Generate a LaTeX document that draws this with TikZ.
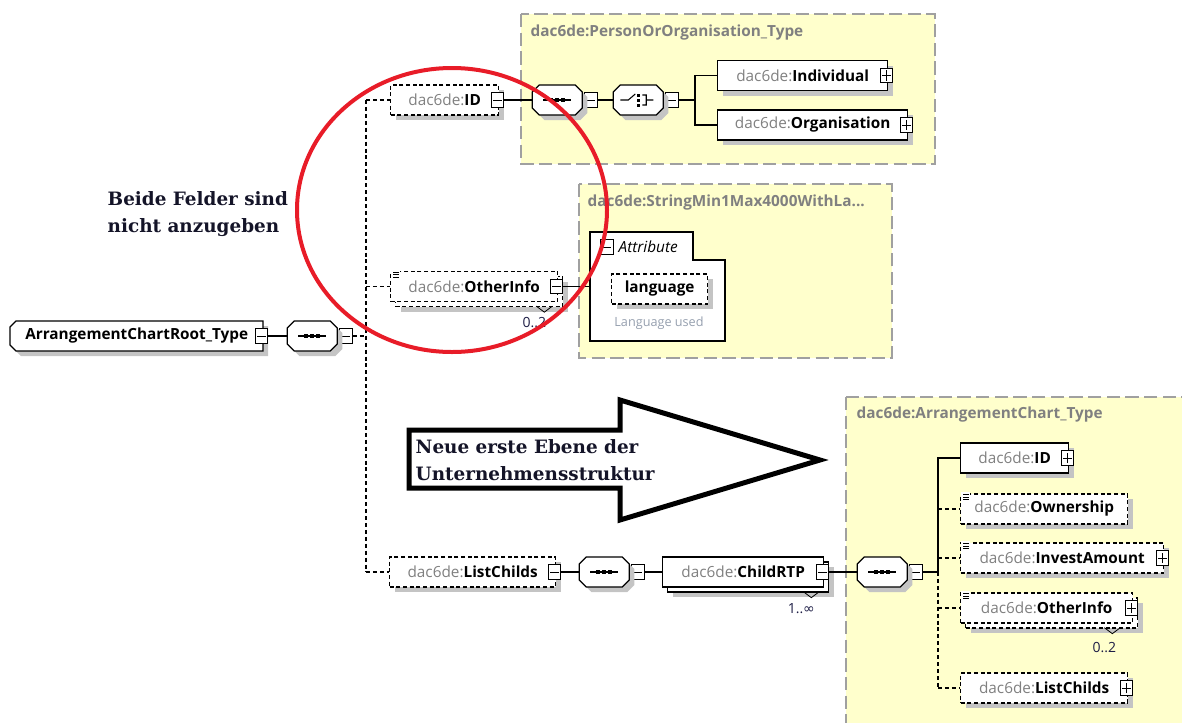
\documentclass[tikz,border=0pt]{standalone}
\usepackage{fontspec}
\setmainfont{Open Sans}
\newfontfamily\notefont{DejaVu Serif}
\newfontfamily\symbfont{DejaVu Sans}
\usepackage{tikz}
\usetikzlibrary{shadows, calc}

\definecolor{grpfill}{RGB}{255,255,204}
\definecolor{grpline}{RGB}{160,160,160}
\definecolor{nsgrey}{RGB}{128,128,128}
\definecolor{circred}{RGB}{232,28,40}
\definecolor{shad}{RGB}{196,196,196}
\definecolor{multcol}{RGB}{30,30,70}
\definecolor{docgrey}{RGB}{150,160,175}
\definecolor{notecol}{RGB}{20,20,40}

\newcommand{\dacns}{\textcolor{nsgrey}{dac6de:}}

\begin{document}
\begin{tikzpicture}[x=0.75pt, y=-0.75pt,
    every node/.style={font=\fontsize{11.5}{13}\selectfont},
    elem/.style={draw, fill=white, line width=1pt, anchor=west, minimum height=22.5pt, inner sep=0pt,
        drop shadow={shadow xshift=3.75pt, shadow yshift=-3.75pt, draw=none, fill=shad, opacity=1}},
    opt/.style={elem, dash pattern=on 3pt off 2pt},
    multi/.style={drop shadow={shadow xshift=7.5pt, shadow yshift=-7.5pt, draw=none, fill=shad, opacity=1},
        copy shadow={shadow xshift=3.75pt, shadow yshift=-3.75pt, draw=black, fill=white}},
    comp/.style={anchor=west, minimum width=37.5pt, minimum height=22.5pt, inner sep=0pt},
    sgn/.style={draw, fill=white, line width=0.7pt, minimum width=9.5pt, minimum height=11pt, inner sep=0pt},
    minus/.style={sgn, path picture={\draw[line width=0.7pt] ([xshift=1.6pt]path picture bounding box.west) -- ([xshift=-1.6pt]path picture bounding box.east);}},
    plus/.style={sgn, path picture={\draw[line width=0.7pt] ([xshift=1.6pt]path picture bounding box.west) -- ([xshift=-1.6pt]path picture bounding box.east) ([yshift=1.6pt]path picture bounding box.south) -- ([yshift=-1.6pt]path picture bounding box.north);}},
    group/.style={draw=grpline, fill=grpfill, line width=1pt, dash pattern=on 10pt off 4pt},
    grptitle/.style={anchor=west, text=nsgrey, font=\fontsize{11.5}{13}\selectfont\bfseries},
    con/.style={line width=0.8pt},
    optcon/.style={con, dash pattern=on 3pt off 2.2pt},
    mult/.style={text=multcol, font=\fontsize{10.5}{12}\selectfont, inner sep=0pt},
    note/.style={anchor=west, align=left, text=notecol, font=\notefont\bfseries\fontsize{13.8}{20}\selectfont}
]
\useasboundingbox (0,0) rectangle (1182,722);

% type groups
\draw[group] (521,14) rectangle (935,164);
\node[grptitle] (g1) at (526,33) {dac6de:PersonOrOrganisation\_Type};
\draw[group] (579,184) rectangle (892,358);
\node[grptitle] (g2) at (583,203) {dac6de:StringMin1Max4000WithLa...};
\draw[group] (846,397) rectangle (1200,740);
\node[grptitle] (g3) at (852,415) {dac6de:ArrangementChart\_Type};

% root
\fill[shad] (21,326) -- (268,326) -- (268,356) -- (21,356) -- (15,350) -- (15,332) -- cycle;
\draw[line width=1pt, fill=white] (16,321) -- (263,321) -- (263,351) -- (16,351) -- (10,345) -- (10,327) -- cycle;
\node[comp, minimum width=189.75pt] (root) at (10,336) {\textbf{ArrangementChartRoot\_Type}};
\node[minus] (rootm) at ([xshift=-1.5pt]root.east) {};
\node[comp] (s1) at (287,336) {};
\node[minus] (s1m) at ([xshift=6.5pt]s1.east) {};

% ID
\node[opt, minimum width=81pt] (id1) at (390,100) {\dacns\textbf{ID}};
\node[minus] (id1m) at ([xshift=-1.5pt]id1.east) {};
\node[comp] (s2) at (532,100) {};
\node[minus] (s2m) at ([xshift=6.5pt]s2.east) {};
\node[comp] (ch) at (613,100) {};
\node[minus] (chm) at ([xshift=6.5pt]ch.east) {};
\node[elem, minimum width=127.5pt] (indiv) at (717,75.5) {\dacns\textbf{Individual}};
\node[plus] (indivp) at ([xshift=-1.5pt]indiv.east) {};
\node[elem, minimum width=142.5pt] (org) at (717,125) {\dacns\textbf{Organisation}};
\node[plus] (orgp) at ([xshift=-1.5pt]org.east) {};

% OtherInfo
\node[opt, multi, minimum width=125.25pt] (oi1) at (390,286.5) {\dacns\textbf{OtherInfo}};
\node[minus] (oi1m) at ([xshift=-1.5pt]oi1.east) {};
\draw[fill=white, line width=1pt] (590,232) -- (693,232) -- (693,260) -- (725,260) -- (725,341) -- (590,341) -- cycle;
\coordinate (attr) at (590,286.5);
\node[minus] (attrm) at (607,247) {};
\node[anchor=west, font=\fontsize{11.5}{13}\selectfont\itshape] (attrt) at (614,247) {Attribute};
\node[opt, minimum width=72pt] (lang) at (611,289) {\textbf{language}};
\node[text=docgrey, font=\fontsize{9.5}{11}\selectfont] (langdoc) at (659,323) {Language used};

% ListChilds
\node[opt, minimum width=124.5pt] (lc1) at (389,572) {\dacns\textbf{ListChilds}};
\node[minus] (lc1m) at ([xshift=-1.5pt]lc1.east) {};
\node[comp] (s3) at (579,572) {};
\node[minus] (s3m) at ([xshift=6.5pt]s3.east) {};
\node[elem, multi, minimum width=120.75pt] (crtp) at (662,572) {\dacns\textbf{ChildRTP}};
\node[minus] (crtpm) at ([xshift=-1.5pt]crtp.east) {};
\node[comp] (s4) at (857,572) {};
\node[minus] (s4m) at ([xshift=6.5pt]s4.east) {};
\node[elem, minimum width=81pt] (id2) at (960,458) {\dacns\textbf{ID}};
\node[plus] (id2p) at ([xshift=-1.5pt]id2.east) {};
\node[opt, minimum width=125.25pt] (own) at (960,509) {\dacns\textbf{Ownership}};
\node[opt, minimum width=152.25pt] (inv) at (960,558) {\dacns\textbf{InvestAmount}};
\node[plus] (invp) at ([xshift=-1.5pt]inv.east) {};
\node[opt, multi, minimum width=129pt] (oi2) at (960,608) {\dacns\textbf{OtherInfo}};
\node[plus] (oi2p) at ([xshift=-1.5pt]oi2.east) {};
\node[opt, minimum width=125.25pt] (lc2) at (960,688) {\dacns\textbf{ListChilds}};
\node[plus] (lc2p) at ([xshift=-1.5pt]lc2.east) {};

% compositors
\foreach \c in {s1,s2,ch,s3,s4} {
  \fill[shad, shift={(\c.center)}, xshift=3.75pt, yshift=-3.75pt] (-25,-8) -- (-18,-15) -- (18,-15) -- (25,-8) -- (25,8) -- (18,15) -- (-18,15) -- (-25,8) -- cycle;
  \draw[line width=1pt, fill=white, shift={(\c.center)}] (-25,-8) -- (-18,-15) -- (18,-15) -- (25,-8) -- (25,8) -- (18,15) -- (-18,15) -- (-25,8) -- cycle;
}
\foreach \c in {s1,s2,s3,s4} {
  \draw[con, shift={(\c.center)}] (-14,0) -- (14,0);
  \foreach \d in {-6,0,6}
    \fill[shift={(\c.center)}] (\d-2,-2) rectangle (\d+2,2);
}
\draw[con, shift={(ch.center)}] (-18,0) -- (-10,0) -- (-3,-6) (4,-5) -- (8,-5) -- (8,5) -- (4,5) (8,0) -- (15,0);
\foreach \d in {-5,0,5}
  \fill[shift={(ch.center)}] (-1,\d-1.5) rectangle (2,\d+1.5);

% documentation marks
\foreach \n in {oi1,own,inv,oi2} {
  \fill[white] ([shift={(1,-1)}]\n.north west) rectangle ([shift={(10,7)}]\n.north west);
  \foreach \k in {1,3.5,6}
    \draw[line width=0.5pt] ([shift={(3,\k)}]\n.north west) -- ([shift={(9,\k)}]\n.north west);
}

% occurrences
\draw[line width=0.6pt] ([shift={(-22,4)}]oi1.south east) -- ([shift={(-14,10)}]oi1.south east) -- ([shift={(-6,4)}]oi1.south east);
\node[mult] (oi1n) at ([shift={(-24,20)}]oi1.south east) {0..2};
\draw[line width=0.6pt] ([shift={(-21,4)}]crtp.south east) -- ([shift={(-13,10)}]crtp.south east) -- ([shift={(-5,4)}]crtp.south east);
\node[mult] (crtpn) at ([shift={(-23,21)}]crtp.south east) {1..{\symbfont ∞}};
\draw[line width=0.6pt] ([shift={(-29,4)}]oi2.south east) -- ([shift={(-21,10)}]oi2.south east) -- ([shift={(-13,4)}]oi2.south east);
\node[mult] (oi2n) at ([shift={(-29,24)}]oi2.south east) {0..2};

% connectors
\coordinate (bus1) at (366,336);
\coordinate (bus0) at (695,100);
\coordinate (bus2) at (938,572);
\draw[con] (rootm) -- (s1);
\draw[optcon] (s1m) -- (bus1);
\draw[optcon] (bus1 |- id1) -- (bus1 |- lc1);
\draw[optcon] (bus1 |- id1) -- (id1);
\draw[optcon] (bus1 |- oi1) -- (oi1);
\draw[optcon] (bus1 |- lc1) -- (lc1);
\draw[con] (id1m) -- (s2);
\draw[con] (s2m) -- (ch);
\draw[con] (chm) -- (bus0);
\draw[con] (indiv) -| (bus0) -- (bus0 |- org) -- (org);
\draw[con] (oi1m) -- (attr);
\draw[con] (lc1m) -- (s3);
\draw[con] (s3m) -- (crtp);
\draw[con] (crtpm) -- (s4);
\draw[con] (s4m) -- (bus2);
\draw[con] (bus2) |- (id2);
\draw[optcon] (bus2 |- own) -- (own);
\draw[optcon] (bus2 |- inv) -- (inv);
\draw[optcon] (bus2) -- (bus2 |- lc2);
\draw[optcon] (bus2 |- oi2) -- (oi2);
\draw[optcon] (bus2 |- lc2) -- (lc2);

% notes
\node[note] (felder) at (103,214) {Beide Felder sind\\nicht anzugeben};
\draw[line width=3.75pt, fill=white] (409,430) -- (620,430) -- (620,400) -- (820,460) -- (620,520) -- (620,488) -- (409,488) -- cycle;
\node[note] (ebene) at (411,460) {Neue erste Ebene der\\Unternehmensstruktur};
\draw[circred, line width=3pt] (452,210) ellipse [x radius=116.25pt, y radius=106.5pt];
\end{tikzpicture}
\end{document}
